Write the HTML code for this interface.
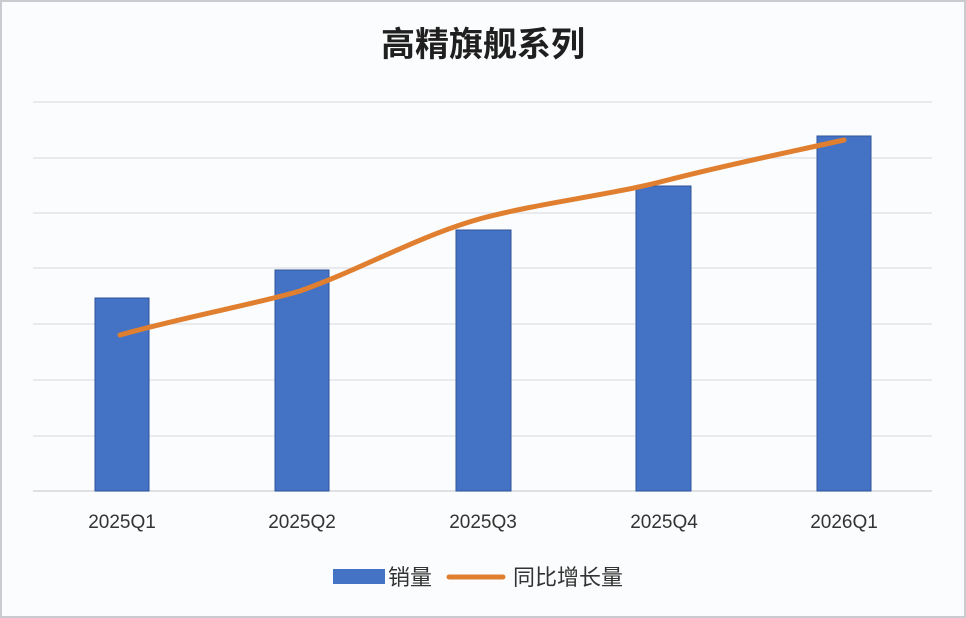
<!DOCTYPE html>
<html><head><meta charset="utf-8"><style>
html,body{margin:0;padding:0;background:#fbfcfd;}
svg{display:block;}
text{font-family:"Liberation Sans","Noto Sans CJK SC",sans-serif;}
</style></head><body>
<svg width="966" height="618" viewBox="0 0 966 618" xmlns="http://www.w3.org/2000/svg">
<rect x="0" y="0" width="966" height="618" fill="#fbfcfd"/>
<rect x="1" y="1" width="964" height="616" fill="none" stroke="#c9cbd0" stroke-width="2"/>
<text x="483" y="56" font-size="34" font-weight="bold" text-anchor="middle" fill="#1f1f1f" font-family="Noto Sans CJK SC, sans-serif">高精旗舰系列</text>
<g stroke="#e2e4e8" stroke-width="1.5">
<line x1="33" x2="932" y1="102" y2="102"/>
<line x1="33" x2="932" y1="158" y2="158"/>
<line x1="33" x2="932" y1="213" y2="213"/>
<line x1="33" x2="932" y1="268" y2="268"/>
<line x1="33" x2="932" y1="324" y2="324"/>
<line x1="33" x2="932" y1="380" y2="380"/>
<line x1="33" x2="932" y1="436" y2="436"/>
</g>
<line x1="33" x2="932" y1="491" y2="491" stroke="#d4d7dc" stroke-width="1.5"/>
<g fill="#4472c4" stroke="#2f559b" stroke-width="1">
<rect x="95" y="298" width="54" height="193"/>
<rect x="275" y="270" width="54" height="221"/>
<rect x="456" y="230" width="55" height="261"/>
<rect x="636" y="186" width="55" height="305"/>
<rect x="817" y="136" width="54" height="355"/>
</g>
<path d="M120,335 C180,318 260,303 300,291 C360,270 420,235 483,218 C540,203 610,195 664,181 C730,164 790,152 844,140" fill="none" stroke="#e07f2f" stroke-width="5" stroke-linecap="round"/>
<g font-size="19" fill="#333" text-anchor="middle">
<text x="122" y="528">2025Q1</text>
<text x="302" y="528">2025Q2</text>
<text x="483" y="528">2025Q3</text>
<text x="664" y="528">2025Q4</text>
<text x="844" y="528">2026Q1</text>
</g>
<rect x="333" y="569" width="52" height="15" fill="#4472c4"/>
<text x="388" y="585" font-size="22" fill="#333">销量</text>
<line x1="449" x2="503" y1="577" y2="577" stroke="#e07f2f" stroke-width="5" stroke-linecap="round"/>
<text x="513" y="585" font-size="22" fill="#333">同比增长量</text>
</svg>
</body></html>
